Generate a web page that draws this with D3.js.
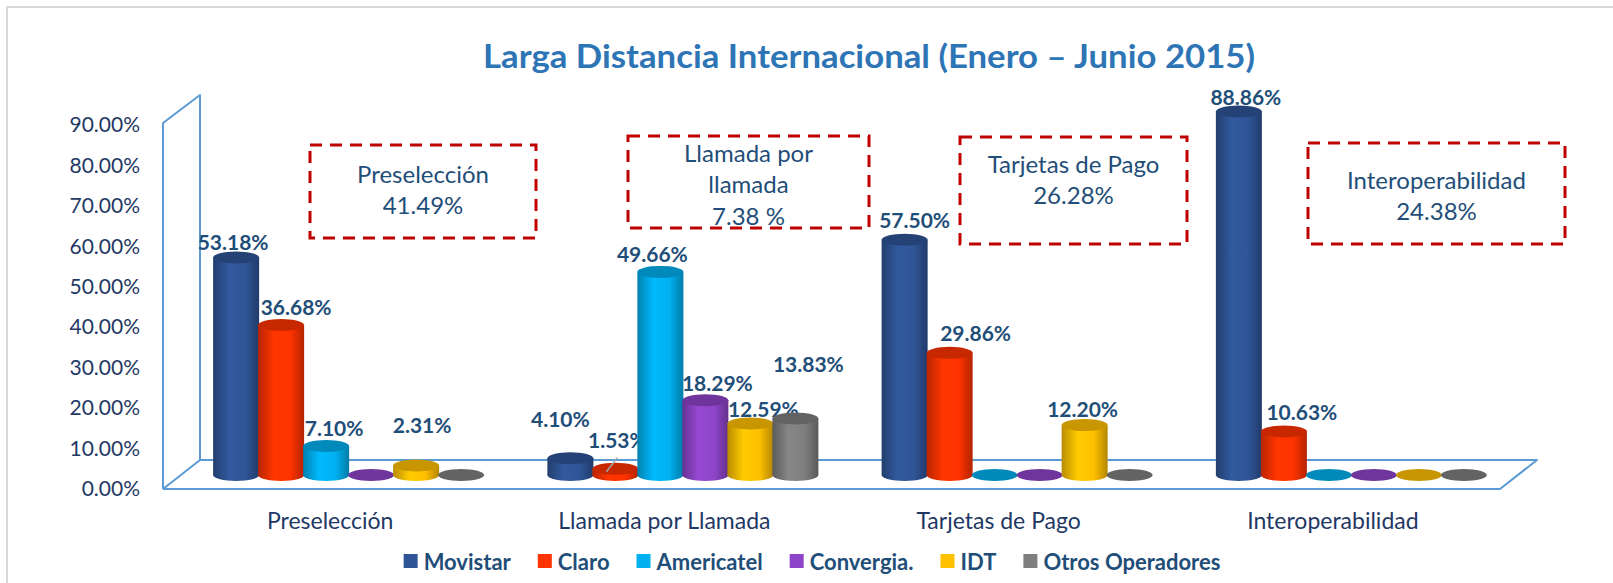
<!DOCTYPE html>
<html>
<head>
<meta charset="utf-8">
<script src="https://cdn.jsdelivr.net/npm/d3@7"></script>
<style>
  body { margin: 0; background: #fff; }
  svg { display: block; font-family: Lato, "Open Sans", sans-serif; }
</style>
</head>
<body>
<div id="chart"></div>
<script>
// ---- data ----
const title = 'Larga Distancia Internacional (Enero – Junio 2015)';
const categories = ['Preselección', 'Llamada por Llamada', 'Tarjetas de Pago', 'Interoperabilidad'];
const operators = ['Movistar', 'Claro', 'Americatel', 'Convergia.', 'IDT', 'Otros Operadores'];
const movistar = [53.18, 4.10, 57.50, 88.86];
const claro = [36.68, 1.53, 29.86, 10.63];
const americatel = [7.10, 49.66, 0, 0];
const convergia = [0, 18.29, 0, 0];
const idt = [2.31, 12.59, 12.20, 0];
const otros = [0, 13.83, 0, 0];
const yTicks = [0, 10, 20, 30, 40, 50, 60, 70, 80, 90];
const boxTexts = [
  ['Preselección', '41.49%'],
  ['Llamada por', 'llamada', '7.38 %'],
  ['Tarjetas de Pago', '26.28%'],
  ['Interoperabilidad', '24.38%']
];

const series = [movistar, claro, americatel, convergia, idt, otros];
const colors = ['#2F5597', '#FF3300', '#00B0F0', '#8E44C8', '#FFC000', '#7F7F7F'];

// ---- layout ----
const W = 1613, H = 583;
const front = { left: 163, right: 1500, bottom: 489 };
const depth = { dx: 37, dy: -29 };
const barBase = 475;          // bars stand half way into the floor
const rx = 23, ry = 6;

// label tweaks where Excel moved a label by hand
const nudge = {
  '0|0': [-11, 2], '0|1': [7, 0], '0|3': [0, 0], '0|4': [-2, -23],
  '1|0': [-18, -22], '1|1': [-6, -11], '1|2': [-16, 0], '1|3': [4, 0], '1|4': [5, 3], '1|5': [5, -37],
  '2|0': [2, -2], '2|1': [18, -2], '2|4': [-10, 1],
  '3|0': [-1, 3], '3|1': [10, -2]
};
const boxes = [
  { x0: 310, y0: 145, x1: 536, y1: 238, first: 173 },
  { x0: 628, y0: 136, x1: 869, y1: 228, first: 152 },
  { x0: 960, y0: 137, x1: 1187, y1: 244, first: 163 },
  { x0: 1308, y0: 143, x1: 1565, y1: 244, first: 179 }
];

const svg = d3.select('#chart').append('svg')
  .attr('width', W)
  .attr('height', H);

// outer frame (only top and left show in the crop)
svg.append('path')
  .attr('d', `M7,${H} V7 H${W}`)
  .attr('fill', 'none')
  .attr('stroke', '#d9d9d9')
  .attr('stroke-width', 2);

svg.append('text')
  .text(title)
  .attr('x', 869)
  .attr('y', 55)
  .attr('text-anchor', 'middle')
  .attr('dominant-baseline', 'central')
  .attr('font-size', 32)
  .attr('font-weight', 'bold')
  .attr('textLength', 772)
  .attr('lengthAdjust', 'spacingAndGlyphs')
  .attr('fill', '#2E75B6');

// scales
const x = d3.scaleBand()
  .domain(categories)
  .range([front.left, front.right]);
const xMid = x.copy().range([front.left + depth.dx / 2, front.right + depth.dx / 2]);
const xSeries = d3.scaleBand()
  .domain(d3.range(operators.length))
  .range([-135, 135]);
const yAxisScale = d3.scaleLinear().domain([0, 90]).range([489, 125]);
const yBar = d3.scaleLinear().domain([0, 90]).range([barBase, barBase - 90 * 4.09]);

// walls
const wall = svg.append('g')
  .attr('fill', 'none')
  .attr('stroke', '#5B9BD5')
  .attr('stroke-width', 2)
  .attr('stroke-linejoin', 'round');
const bx = front.left + depth.dx, by = front.bottom + depth.dy;
wall.append('path')
  .attr('d', `M${front.left},${front.bottom} V123 L${bx},95 V${by} L${front.left},${front.bottom}`);
wall.append('path')
  .attr('d', `M${front.left},${front.bottom} H${front.right} L${front.right + depth.dx},${by} H${bx}`);

// y axis (labels only)
const yAxis = svg.append('g')
  .attr('transform', 'translate(140,0)')
  .call(d3.axisLeft(yAxisScale).tickValues(yTicks).tickSize(0).tickPadding(0)
    .tickFormat(d => d.toFixed(2) + '%'));
yAxis.select('.domain').remove();
yAxis.selectAll('text')
  .attr('font-size', 21)
  .attr('font-family', 'Lato, "Open Sans", sans-serif')
  .attr('fill', '#1F3864');

// category labels
svg.append('g').selectAll('text')
  .data(categories)
  .join('text')
  .text(d => d)
  .attr('x', d => x(d) + x.bandwidth() / 2)
  .attr('y', 520)
  .attr('text-anchor', 'middle')
  .attr('dominant-baseline', 'central')
  .attr('font-size', 23)
  .attr('fill', '#1F3864');

// gradients for the cylinders
const defs = svg.append('defs');
colors.forEach((c, i) => {
  const grad = defs.append('linearGradient')
    .attr('id', 'cyl' + i)
    .attr('x1', 0).attr('x2', 1).attr('y1', 0).attr('y2', 0);
  grad.append('stop').attr('offset', '0%').attr('stop-color', d3.color(c).darker(0.9));
  grad.append('stop').attr('offset', '35%').attr('stop-color', d3.color(c).brighter(0.15));
  grad.append('stop').attr('offset', '70%').attr('stop-color', c);
  grad.append('stop').attr('offset', '100%').attr('stop-color', d3.color(c).darker(1));
});

// bars
const bars = svg.append('g');
categories.forEach((cat, ci) => {
  series.forEach((vals, si) => {
    const v = vals[ci];
    const cx = xMid(cat) + xMid.bandwidth() / 2 + xSeries(si) + xSeries.bandwidth() / 2;
    const top = yBar(v);
    const capColor = d3.color(colors[si]).darker(0.7);
    const g = bars.append('g');
    if (v > 0) {
      g.append('rect')
        .attr('x', cx - rx)
        .attr('y', top)
        .attr('width', rx * 2)
        .attr('height', yBar(0) - top)
        .attr('fill', `url(#cyl${si})`);
      g.append('ellipse')
        .attr('cx', cx).attr('cy', yBar(0))
        .attr('rx', rx).attr('ry', ry)
        .attr('fill', `url(#cyl${si})`);
    }
    g.append('ellipse')
      .attr('cx', cx).attr('cy', top)
      .attr('rx', rx).attr('ry', ry)
      .attr('fill', capColor);

    if (v > 0) {
      const n = nudge[ci + '|' + si] || [0, 0];
      const lx = cx + 8 + n[0], ly = top - 18 + n[1];
      if (ci === 1 && si === 1) {
        // leader line for the small Claro label
        bars.append('line')
          .attr('x1', cx - 9).attr('y1', top + 3)
          .attr('x2', cx + 2).attr('y2', top - 11)
          .attr('stroke', '#a6a6a6')
          .attr('stroke-width', 1.5);
      }
      bars.append('text')
        .text(v.toFixed(2) + '%')
        .attr('x', lx)
        .attr('y', ly)
        .attr('text-anchor', 'middle')
        .attr('dominant-baseline', 'central')
        .attr('font-size', 21)
        .attr('font-weight', 'bold')
        .attr('fill', '#1F4E79');
    }
  });
});

// dashed annotation boxes
const ann = svg.append('g');
boxes.forEach((b, i) => {
  ann.append('rect')
    .attr('x', b.x0).attr('y', b.y0)
    .attr('width', b.x1 - b.x0).attr('height', b.y1 - b.y0)
    .attr('fill', 'none')
    .attr('stroke', '#C00000')
    .attr('stroke-width', 3)
    .attr('stroke-dasharray', '12 8');
  ann.append('g').selectAll('text')
    .data(boxTexts[i])
    .join('text')
    .text(d => d)
    .attr('x', (b.x0 + b.x1) / 2)
    .attr('y', (d, j) => b.first + j * 31.5)
    .attr('text-anchor', 'middle')
    .attr('dominant-baseline', 'central')
    .attr('font-size', 24)
    .attr('fill', '#1F4E79');
});

// legend
const legend = svg.append('g');
let lxPos = 0;
operators.forEach((name, i) => {
  const item = legend.append('g').attr('transform', `translate(${lxPos},0)`);
  item.append('rect')
    .attr('x', 0).attr('y', -7)
    .attr('width', 14).attr('height', 14)
    .attr('fill', colors[i]);
  const t = item.append('text')
    .text(name)
    .attr('x', 20)
    .attr('y', 0)
    .attr('dominant-baseline', 'central')
    .attr('font-size', 22)
    .attr('font-weight', 'bold')
    .attr('fill', '#1F4E79');
  lxPos += 20 + t.node().getComputedTextLength() + 27;
});
legend.attr('transform', `translate(${812 - (lxPos - 27) / 2},561)`);
</script>
</body>
</html>
